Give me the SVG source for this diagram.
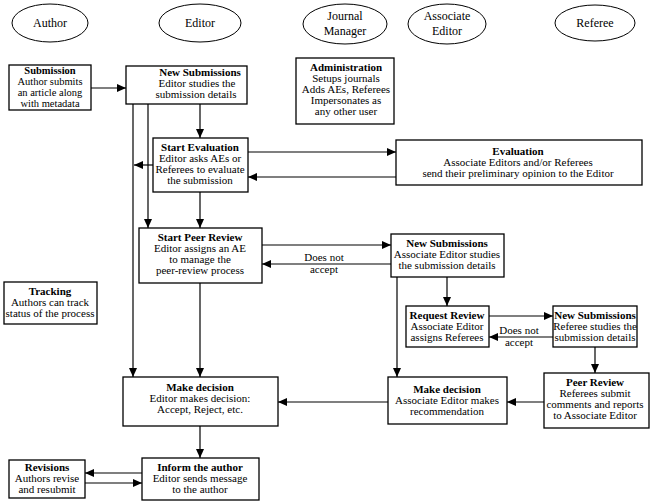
<svg xmlns="http://www.w3.org/2000/svg" width="651" height="503" viewBox="0 0 651 503" font-family="'Liberation Serif', 'Times New Roman', Times, serif">
<defs>
<marker id="ah" markerWidth="9" markerHeight="8" refX="9" refY="4" orient="auto" markerUnits="userSpaceOnUse">
<path d="M0,0 L9,4 L0,8 z" fill="#000"/>
</marker>
<style>
.lane{fill:#fff;stroke:#000;stroke-width:1}
.box{fill:#fff;stroke:#000;stroke-width:1.3}
text{font-size:11px;fill:#000;text-anchor:middle}
.lt{font-size:12px}
.b{font-weight:bold}
.s{font-size:10.5px}
.c line,.c path{stroke:#000;stroke-width:1.2;fill:none}
.a{marker-end:url(#ah)}
</style>
</defs>
<rect width="651" height="503" fill="#fff"/>
<g id="lanes">
<g id="lane-author"><ellipse class="lane" cx="50" cy="23" rx="38" ry="19"/><text class="lt" x="50" y="27">Author</text></g>
<g id="lane-editor"><ellipse class="lane" cx="200" cy="23" rx="41" ry="19"/><text class="lt" x="200" y="27">Editor</text></g>
<g id="lane-jm"><ellipse class="lane" cx="345" cy="24" rx="42" ry="20"/><text class="lt" x="345" y="20">Journal</text><text class="lt" x="345" y="35">Manager</text></g>
<g id="lane-ae"><ellipse class="lane" cx="447" cy="24" rx="39" ry="20"/><text class="lt" x="447" y="20">Associate</text><text class="lt" x="447" y="35">Editor</text></g>
<g id="lane-referee"><ellipse class="lane" cx="595" cy="23" rx="40" ry="18"/><text class="lt" x="595" y="27">Referee</text></g>
</g>
<g class="c" id="connectors">
<line class="a" x1="91" y1="88" x2="126" y2="88"/>
<line class="a" x1="200" y1="104" x2="200" y2="138"/>
<line class="a" x1="133" y1="104" x2="133" y2="377"/>
<line class="a" x1="148" y1="104" x2="148" y2="228"/>
<line class="a" x1="153" y1="165" x2="134" y2="165"/>
<line class="a" x1="248" y1="152" x2="396" y2="152"/>
<line class="a" x1="396" y1="177" x2="248" y2="177"/>
<line class="a" x1="200" y1="192" x2="200" y2="228"/>
<line class="a" x1="262" y1="245" x2="391" y2="245"/>
<line class="a" x1="391" y1="264" x2="262" y2="264"/>
<line class="a" x1="200" y1="283" x2="200" y2="377"/>
<line class="a" x1="447" y1="277" x2="447" y2="306"/>
<line class="a" x1="397" y1="277" x2="397" y2="377"/>
<line class="a" x1="489" y1="316" x2="553" y2="316"/>
<line class="a" x1="553" y1="337" x2="489" y2="337"/>
<line class="a" x1="595" y1="347" x2="595" y2="373"/>
<line class="a" x1="544" y1="402" x2="507" y2="402"/>
<line class="a" x1="388" y1="402" x2="278" y2="402"/>
<line class="a" x1="200" y1="426" x2="200" y2="458"/>
<line class="a" x1="142" y1="473" x2="85" y2="473"/>
<line class="a" x1="85" y1="483" x2="142" y2="483"/>
<text x="324" y="261">Does not</text><text x="324" y="273">accept</text>
<text x="519" y="334">Does not</text><text x="519" y="346">accept</text>
</g>
<g id="submission"><rect class="box" x="9" y="65" width="82" height="45"/><text class="b s" x="50" y="74">Submission</text><text class="s" x="50" y="85">Author submits</text><text class="s" x="50" y="96">an article along</text><text class="s" x="50" y="107">with metadata</text></g>
<g id="new-sub-editor"><rect class="box" x="126" y="66" width="121" height="38"/><text class="b" x="200" y="76">New Submissions</text><text x="197" y="87">Editor studies the</text><text x="196" y="98">submission details</text></g>
<g id="administration"><rect class="box" x="296" y="58" width="98" height="66"/><text class="b" x="346" y="71">Administration</text><text x="346" y="82">Setups journals</text><text x="346" y="93">Adds AEs, Referees</text><text x="346" y="104">Impersonates as</text><text x="346" y="115">any other user</text></g>
<g id="start-eval"><rect class="box" x="153" y="138" width="95" height="54"/><text class="b" x="200" y="151">Start Evaluation</text><text x="200" y="162">Editor asks AEs or</text><text x="200" y="173">Referees to evaluate</text><text x="200" y="184">the submission</text></g>
<g id="evaluation"><rect class="box" x="396" y="140" width="246" height="45"/><text class="b" x="518" y="155">Evaluation</text><text x="518" y="166">Associate Editors and/or Referees</text><text x="518" y="177">send their  preliminary opinion to the Editor</text></g>
<g id="start-peer"><rect class="box" x="139" y="228" width="123" height="55"/><text class="b" x="200" y="241">Start Peer Review</text><text x="200" y="252">Editor assigns an AE</text><text x="200" y="263">to manage the</text><text x="200" y="274">peer-review process</text></g>
<g id="new-sub-ae"><rect class="box" x="391" y="234" width="113" height="43"/><text class="b" x="447" y="247">New Submissions</text><text x="447" y="258">Associate Editor studies</text><text x="447" y="269">the submission details</text></g>
<g id="request-review"><rect class="box" x="406" y="306" width="83" height="41"/><text class="b" x="447" y="319">Request Review</text><text x="447" y="330">Associate Editor</text><text x="447" y="341">assigns Referees</text></g>
<g id="new-sub-referee"><rect class="box" x="553" y="306" width="84" height="41"/><text class="b" x="595" y="319">New Submissions</text><text x="595" y="330">Referee studies the</text><text x="595" y="341">submission details</text></g>
<g id="tracking"><rect class="box" x="4" y="282" width="93" height="42"/><text class="b" x="50" y="295">Tracking</text><text x="50" y="306">Authors can track</text><text x="50" y="317">status of the process</text></g>
<g id="make-decision-ae"><rect class="box" x="388" y="377" width="119" height="47"/><text class="b" x="447" y="393">Make decision</text><text x="447" y="404">Associate Editor makes</text><text x="447" y="415">recommendation</text></g>
<g id="peer-review"><rect class="box" x="544" y="373" width="105" height="55"/><text class="b" x="595" y="386">Peer Review</text><text x="595" y="397">Referees submit</text><text x="595" y="408">comments and reports</text><text x="595" y="419">to Associate Editor</text></g>
<g id="make-decision-editor"><rect class="box" x="123" y="377" width="155" height="49"/><text class="b" x="200" y="391">Make decision</text><text x="200" y="402">Editor makes decision:</text><text x="200" y="413">Accept, Reject, etc.</text></g>
<g id="inform"><rect class="box" x="142" y="458" width="117" height="42"/><text class="b" x="200" y="471">Inform the author</text><text x="200" y="482">Editor sends message</text><text x="200" y="493">to the author</text></g>
<g id="revisions"><rect class="box" x="9" y="460" width="76" height="38"/><text class="b" x="47" y="471">Revisions</text><text x="47" y="482">Authors revise</text><text x="47" y="493">and resubmit</text></g>
</svg>
